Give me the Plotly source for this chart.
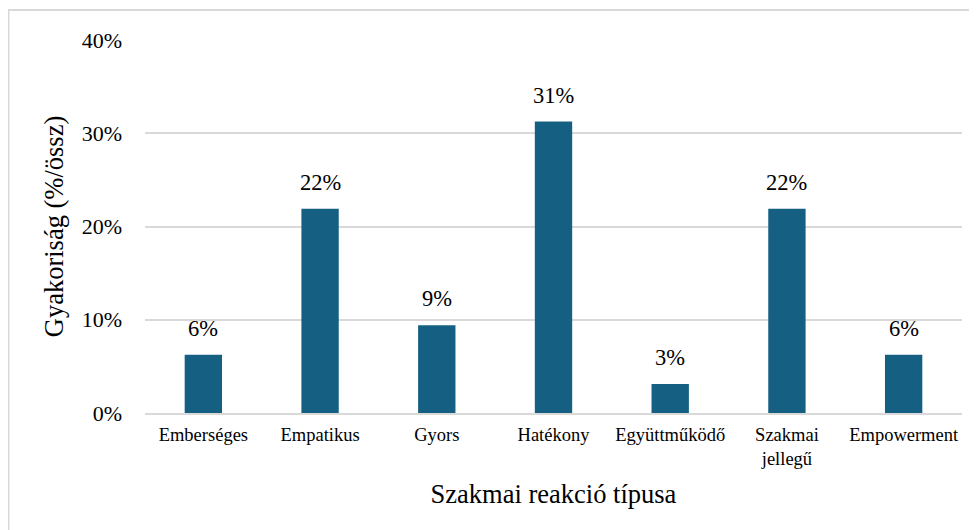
import plotly.graph_objects as go

categories = ["Emberséges", "Empatikus", "Gyors", "Hatékony", "Együttműködő", "Szakmai<br>jellegű", "Empowerment"]
values = [0.0625, 0.219, 0.094, 0.3125, 0.031, 0.219, 0.0625]
y_ticks = [0, 0.1, 0.2, 0.3, 0.4]
y_tick_labels = ["0%", "10%", "20%", "30%", "40%"]

FONT = "Liberation Serif"
# page has an 8px body margin; figure sized so plot area lands where reference has it
W, H = 969, 522
ml, mr, mt, mb = 137, 15, 32, 117
pw, ph = W - ml - mr, H - mt - mb

fig = go.Figure(go.Bar(
    x=categories, y=values,
    marker=dict(color="#156082", line=dict(width=0)),
    cliponaxis=False, width=0.32,
))

# value labels above the bars
for c, v in zip(categories, values):
    fig.add_annotation(x=c, y=v, text=f"{round(v*100)}%", showarrow=False,
                       yanchor="bottom", yshift=12,
                       font=dict(family=FONT, size=22.5, color="#000000"))

# outer border (px -> paper)
bx0 = (0.5 - ml) / pw
by1 = (H - mb - 2) / ph
fig.add_shape(type="rect", xref="paper", yref="paper",
              x0=bx0, x1=1.2, y0=-0.6, y1=by1,
              line=dict(color="#d9d9d9", width=2), fillcolor="rgba(0,0,0,0)", layer="below")

fig.update_layout(
    width=W, height=H,
    margin=dict(l=ml, r=mr, t=mt, b=mb),
    paper_bgcolor="white", plot_bgcolor="white",
    font=dict(family=FONT, color="#000000"),
    showlegend=False,
    xaxis=dict(
        title=dict(text="Szakmai reakció típusa", font=dict(family=FONT, size=26.5), standoff=16),
        tickfont=dict(family=FONT, size=18.5),
        showline=True, linecolor="#d9d9d9", linewidth=2,
        ticks="", showgrid=False,
        ticklabelstandoff=4,
    ),
    yaxis=dict(
        title=dict(text="Gyakoriság (%/össz)", font=dict(family=FONT, size=26.5), standoff=10),
        range=[0, 0.4], tickvals=y_ticks, ticktext=y_tick_labels,
        tickfont=dict(family=FONT, size=22),
        showgrid=True, gridcolor="#d9d9d9", gridwidth=1.5,
        zeroline=False, showline=False, ticks="",
        ticklabelstandoff=22,
    ),
)

fig.write_html("out.html")
